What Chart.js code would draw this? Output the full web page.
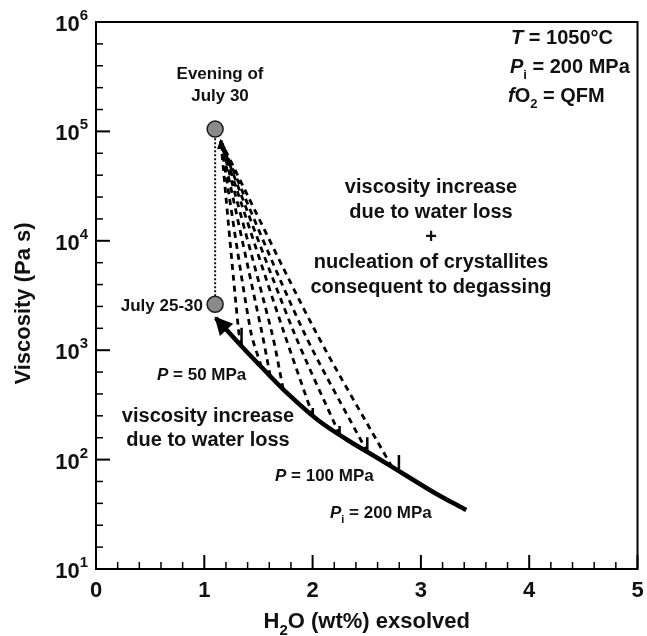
<!DOCTYPE html>
<html lang="en">
<head>
  <meta charset="UTF-8">
  <title>Viscosity vs H2O exsolved</title>
  <script src="https://cdn.jsdelivr.net/npm/chart.js"></script>
  <style>
    body { margin: 0; background: #fff; }
    #chart { display: block; }
  </style>
</head>
<body>
  <canvas id="chart" width="647" height="636"></canvas>

  <script>
    // degassing path at Pi = 200 MPa (solid, arrow at the low-water end)
    const curveX = [1.106, 1.316, 1.527, 1.773, 2.048, 2.322, 2.596, 2.871, 3.145, 3.419];
    const curveY = [1968, 1164, 702, 398, 230, 151, 104, 70.8, 48.5, 34.6];

    // dashed paths: water loss + crystallite nucleation
    const dashStartX = [1.344, 1.527, 1.609, 1.728, 2.002, 2.249, 2.505, 2.733];
    const dashStartY = [1091, 702, 581, 442, 251, 169, 117, 85.5];
    const dashMidX = [1.316, 1.426, 1.527, 1.618, 1.728, 1.819, 1.910, 2.020];
    const dashMidY = [1530, 1530, 1530, 1530, 1530, 1530, 1530, 1530];
    const dashEndX = 1.152;
    const dashEndY = 82000;

    // pressure marks on the solid path
    const markX = [1.344, 2.002, 2.249, 2.505, 2.797];
    const markLow = [1091, 251, 169, 117, 78.7];
    const markHigh = [1600, 297, 203, 160, 110];

    // observed viscosities
    const obsX = [1.1, 1.1];
    const obsY = [2630, 105000];

    const xTicks = [0, 1, 2, 3, 4, 5];
    const yExp = [1, 2, 3, 4, 5, 6];

    const FONT = '"Liberation Sans", Arial, Helvetica, sans-serif';

    function pts(xs, ys) {
      return xs.map((x, i) => ({ x: x, y: ys[i] }));
    }

    const datasets = [];
    datasets.push({
      type: 'scatter', data: pts(obsX, obsY), showLine: false,
      pointRadius: 8, pointBackgroundColor: '#8a8a8a', pointBorderColor: '#1a1a1a', pointBorderWidth: 1.5
    });
    datasets.push({
      data: pts(obsX, obsY), borderColor: '#111', borderWidth: 2, borderDash: [2, 2], pointRadius: 0
    });
    datasets.push({
      data: pts(curveX, curveY), borderColor: '#000', borderWidth: 4.5, pointRadius: 0, tension: 0.35
    });
    dashStartX.forEach((x, i) => {
      datasets.push({
        data: [{ x: x, y: dashStartY[i] }, { x: dashMidX[i], y: dashMidY[i] }, { x: dashEndX, y: dashEndY }],
        borderColor: '#000', borderWidth: 2.8, borderDash: [6, 5], pointRadius: 0, tension: 0.3
      });
    });
    markX.forEach((x, i) => {
      datasets.push({
        data: [{ x: x, y: markLow[i] }, { x: x, y: markHigh[i] }],
        borderColor: '#000', borderWidth: 2.5, pointRadius: 0
      });
    });

    function fontFor(style, size) {
      const small = style === 'sub' || style === 'sup';
      const s = small ? Math.round(size * 0.66) : size;
      return (style === 'i' ? 'italic ' : '') + 'bold ' + s + 'px ' + FONT;
    }

    // parts: [text, style] with style '', 'i', 'sub', 'sup'
    function drawRich(ctx, parts, x, y, size, align) {
      let w = 0;
      parts.forEach(p => { ctx.font = fontFor(p[1], size); w += ctx.measureText(p[0]).width; });
      let cx = align === 'center' ? x - w / 2 : (align === 'right' ? x - w : x);
      parts.forEach(p => {
        ctx.font = fontFor(p[1], size);
        let dy = 0;
        if (p[1] === 'sub') dy = size * 0.32;
        if (p[1] === 'sup') dy = -size * 0.5;
        ctx.fillText(p[0], cx, y + dy);
        cx += ctx.measureText(p[0]).width;
      });
    }

    function arrowHead(ctx, tip, from, len, hw) {
      const dx = tip.x - from.x, dy = tip.y - from.y;
      const d = Math.hypot(dx, dy);
      const ux = dx / d, uy = dy / d;
      const tx = tip.x + ux * 2, ty = tip.y + uy * 2;
      const bx = tx - ux * len, by = ty - uy * len;
      ctx.beginPath();
      ctx.moveTo(tx, ty);
      ctx.lineTo(bx - uy * hw, by + ux * hw);
      ctx.lineTo(bx + uy * hw, by - ux * hw);
      ctx.closePath();
      ctx.fill();
    }

    const framePlugin = {
      id: 'frame',
      afterDatasetsDraw(chart) {
        const ctx = chart.ctx;
        const xs = chart.scales.x, ys = chart.scales.y;
        const a = chart.chartArea;
        ctx.save();
        ctx.fillStyle = '#000';
        ctx.strokeStyle = '#000';

        // arrowheads
        const p0 = { x: xs.getPixelForValue(curveX[0]), y: ys.getPixelForValue(curveY[0]) };
        const p1 = { x: xs.getPixelForValue(curveX[1]), y: ys.getPixelForValue(curveY[1]) };
        arrowHead(ctx, p0, p1, 18, 9);
        const q0 = { x: xs.getPixelForValue(dashEndX), y: ys.getPixelForValue(dashEndY) };
        const q1 = { x: xs.getPixelForValue(dashMidX[0]), y: ys.getPixelForValue(dashMidY[0]) };
        arrowHead(ctx, q0, q1, 10, 4.5);

        // frame
        ctx.lineWidth = 2;
        ctx.strokeRect(a.left, a.top, a.right - a.left, a.bottom - a.top);

        // ticks (inside, left and bottom only)
        for (let v = 0; v <= 5.001; v += 0.2) {
          const px = xs.getPixelForValue(v);
          const major = Math.abs(v - Math.round(v)) < 0.01;
          ctx.lineWidth = major ? 2 : 1.5;
          ctx.beginPath();
          ctx.moveTo(px, a.bottom);
          ctx.lineTo(px, a.bottom - (major ? 14 : 7));
          ctx.stroke();
        }
        for (let e = 1; e <= 6.001; e += 0.2) {
          const py = ys.getPixelForValue(Math.pow(10, e));
          const major = Math.abs(e - Math.round(e)) < 0.01;
          ctx.lineWidth = major ? 2 : 1.5;
          ctx.beginPath();
          ctx.moveTo(a.left, py);
          ctx.lineTo(a.left + (major ? 14 : 7), py);
          ctx.stroke();
        }

        ctx.textBaseline = 'alphabetic';
        ctx.textAlign = 'left';
        ctx.fillStyle = '#111';

        xTicks.forEach(v => {
          drawRich(ctx, [[String(v), '']], xs.getPixelForValue(v), a.bottom + 28, 22, 'center');
        });
        yExp.forEach(e => {
          const py = ys.getPixelForValue(Math.pow(10, e));
          drawRich(ctx, [['10', ''], [String(e), 'sup']], a.left - 8, py + 9, 22, 'right');
        });

        // axis titles
        drawRich(ctx, [['H', ''], ['2', 'sub'], ['O (wt%) exsolved', '']], (a.left + a.right) / 2, 628, 22, 'center');
        ctx.save();
        ctx.translate(30, (a.top + a.bottom) / 2 + 8);
        ctx.rotate(-Math.PI / 2);
        drawRich(ctx, [['Viscosity (Pa s)', '']], 0, 0, 22, 'center');
        ctx.restore();

        // annotations
        drawRich(ctx, [['Evening of', '']], 220, 79, 17, 'center');
        drawRich(ctx, [['July 30', '']], 220, 101, 17, 'center');
        drawRich(ctx, [['July 25-30', '']], 203, 311, 17, 'right');
        drawRich(ctx, [['P', 'i'], [' = 50 MPa', '']], 157, 380, 17, 'left');
        drawRich(ctx, [['P', 'i'], [' = 100 MPa', '']], 275, 481, 17, 'left');
        drawRich(ctx, [['P', 'i'], ['i', 'sub'], [' = 200 MPa', '']], 330, 518, 17, 'left');

        drawRich(ctx, [['viscosity increase', '']], 208, 422, 20, 'center');
        drawRich(ctx, [['due to water loss', '']], 208, 446, 20, 'center');

        drawRich(ctx, [['viscosity increase', '']], 431, 193, 20, 'center');
        drawRich(ctx, [['due to water loss', '']], 431, 218, 20, 'center');
        drawRich(ctx, [['+', '']], 431, 243, 20, 'center');
        drawRich(ctx, [['nucleation of crystallites', '']], 431, 268, 20, 'center');
        drawRich(ctx, [['consequent to degassing', '']], 431, 293, 20, 'center');

        drawRich(ctx, [['T', 'i'], [' = 1050°C', '']], 511, 44, 20, 'left');
        drawRich(ctx, [['P', 'i'], ['i', 'sub'], [' = 200 MPa', '']], 510, 73, 20, 'left');
        drawRich(ctx, [['f', 'i'], ['O', ''], ['2', 'sub'], [' = QFM', '']], 508, 102, 20, 'left');

        ctx.restore();
      }
    };

    new Chart(document.getElementById('chart'), {
      type: 'line',
      data: { datasets: datasets },
      options: {
        responsive: false,
        animation: false,
        events: [],
        layout: { padding: { left: 96, top: 22, right: 4, bottom: 67 } },
        plugins: { legend: { display: false }, tooltip: { enabled: false } },
        scales: {
          x: { type: 'linear', min: 0, max: 5, display: false },
          y: { type: 'logarithmic', min: 10, max: 1000000, display: false }
        }
      },
      plugins: [framePlugin]
    });
  </script>
</body>
</html>
